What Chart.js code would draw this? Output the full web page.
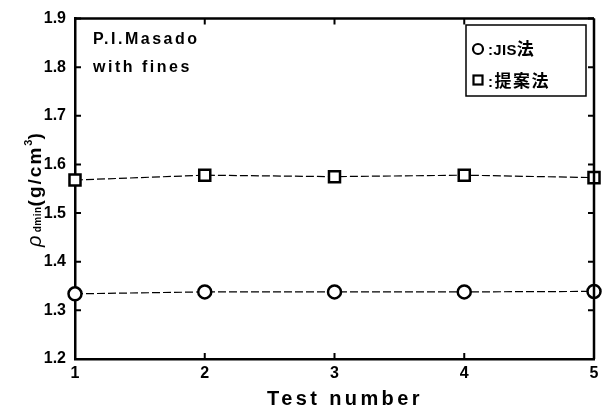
<!DOCTYPE html>
<html>
<head>
<meta charset="utf-8">
<script src="https://cdn.jsdelivr.net/npm/chart.js@4.4.1/dist/chart.umd.min.js"></script>
<style>
  html, body { margin: 0; padding: 0; background: #fff; }
  #wrap { width: 606px; height: 414px; }
</style>
</head>
<body>
<div id="wrap"><canvas id="chart" width="606" height="414"></canvas></div>
<script>
// ── data ─────────────────────────────────────────
const testNumbers    = [1, 2, 3, 4, 5];
const jisValues      = [1.334, 1.338, 1.338, 1.338, 1.339];
const proposedValues = [1.568, 1.578, 1.575, 1.578, 1.573];
const seriesLabels   = [':JIS法', ':提案法'];
const noteLines      = ['P.I.Masado', 'with fines'];
const yMin = 1.2, yMax = 1.9, yStep = 0.1;

const FONT = "'Liberation Sans', Arial, 'Noto Sans CJK JP', sans-serif";
const CJK = "'Noto Sans CJK JP', sans-serif";

// latin chars in one font, CJK chars in another, left to right
function mixedText(ctx, str, x, y, latinFont, cjkFont, spacing) {
  ctx.letterSpacing = spacing + 'px';
  for (const ch of str) {
    ctx.font = /[\u3000-\u9fff]/.test(ch) ? cjkFont : latinFont;
    ctx.fillText(ch, x, y);
    x += ctx.measureText(ch).width;
  }
}

// inner ticks, frame, legend, notes and axis titles
const figurePlugin = {
  id: 'figure',
  afterDraw(chart) {
    const ctx = chart.ctx;
    const a = chart.chartArea;
    const xs = chart.scales.x, ys = chart.scales.y;
    ctx.save();
    ctx.strokeStyle = '#000';
    ctx.lineWidth = 2.5;
    ctx.beginPath();
    ctx.moveTo(a.left, a.top); ctx.lineTo(a.right, a.top);
    ctx.moveTo(a.right, a.top); ctx.lineTo(a.right, a.bottom);
    ctx.stroke();

    ctx.lineWidth = 2;
    ctx.beginPath();
    xs.ticks.forEach(t => {
      const px = xs.getPixelForValue(t.value);
      ctx.moveTo(px, a.bottom); ctx.lineTo(px, a.bottom - 6);
      ctx.moveTo(px, a.top); ctx.lineTo(px, a.top + 6);
    });
    ys.ticks.forEach(t => {
      const py = ys.getPixelForValue(t.value);
      ctx.moveTo(a.left, py); ctx.lineTo(a.left + 6, py);
      ctx.moveTo(a.right, py); ctx.lineTo(a.right - 6, py);
    });
    ctx.stroke();

    // legend box
    ctx.lineWidth = 1.5;
    ctx.strokeRect(466, 25, 120, 71);
    ctx.fillStyle = '#fff';
    ctx.lineWidth = 2.2;
    ctx.beginPath(); ctx.arc(478, 49, 5, 0, Math.PI * 2); ctx.fill(); ctx.stroke();
    ctx.fillRect(473.5, 75.5, 9, 9); ctx.strokeRect(473.5, 75.5, 9, 9);
    ctx.fillStyle = '#000';
    ctx.textBaseline = 'alphabetic';
    ctx.textAlign = 'left';
    mixedText(ctx, seriesLabels[0], 488, 55, 'bold 15px ' + FONT, 'bold 17px ' + CJK, 0.3);
    mixedText(ctx, seriesLabels[1], 488, 87, 'bold 15px ' + FONT, 'bold 17px ' + CJK, 1.5);

    // notes
    ctx.font = 'bold 16px ' + FONT;
    ctx.letterSpacing = '2.5px';
    ctx.fillText(noteLines[0], 93, 44);
    ctx.fillText(noteLines[1], 93, 72);

    // x title
    ctx.font = 'bold 20px ' + FONT;
    ctx.letterSpacing = '3.4px';
    ctx.fillText('Test number', 267, 405);

    // y title (rotated, rich text)
    ctx.translate(41, 247);
    ctx.rotate(-Math.PI / 2);
    const parts = [
      { t: 'ρ', f: 'italic 20px ' + FONT, ls: 0, dy: 0 },
      { t: ' dmin', f: 'bold 10px ' + FONT, ls: 0.5, dy: 0 },
      { t: '(g/cm', f: 'bold 19px ' + FONT, ls: 2, dy: 0 },
      { t: '3', f: 'bold 11px ' + FONT, ls: 0, dy: -9 },
      { t: ')', f: 'bold 19px ' + FONT, ls: 2, dy: 0 }
    ];
    let x = 0;
    parts.forEach(p => {
      ctx.font = p.f;
      ctx.letterSpacing = p.ls + 'px';
      ctx.fillText(p.t, x, p.dy);
      x += ctx.measureText(p.t).width;
    });
    ctx.restore();
  }
};

new Chart(document.getElementById('chart'), {
  type: 'line',
  data: {
    datasets: [
      {
        label: seriesLabels[0],
        data: testNumbers.map((n, i) => ({ x: n, y: jisValues[i] })),
        borderColor: '#000', borderWidth: 1.2, borderDash: [8, 3],
        pointStyle: 'circle', pointRadius: 6.5, pointBorderWidth: 2.5,
        pointBackgroundColor: '#fff', pointBorderColor: '#000',
        tension: 0, clip: false
      },
      {
        label: seriesLabels[1],
        data: testNumbers.map((n, i) => ({ x: n, y: proposedValues[i] })),
        borderColor: '#000', borderWidth: 1.2, borderDash: [8, 3],
        pointStyle: 'rect', pointRadius: 7.8, pointBorderWidth: 2.5,
        pointBackgroundColor: '#fff', pointBorderColor: '#000',
        tension: 0, clip: false
      }
    ]
  },
  options: {
    responsive: false,
    animation: false,
    layout: { padding: { top: 14, right: 12, left: 0, bottom: 0 } },
    plugins: { legend: { display: false }, tooltip: { enabled: false } },
    scales: {
      x: {
        type: 'linear', min: 1, max: 5,
        grid: { display: false, drawTicks: false },
        border: { display: true, color: '#000', width: 2.5 },
        ticks: { stepSize: 1, padding: 5, color: '#000', font: { family: FONT, size: 16, weight: 'bold' } },
        afterFit: s => { s.height = 55; }
      },
      y: {
        type: 'linear', min: yMin, max: yMax,
        grid: { display: false, drawTicks: false },
        border: { display: true, color: '#000', width: 2.5 },
        ticks: { stepSize: yStep, padding: 9, color: '#000', font: { family: FONT, size: 16, weight: 'bold' },
                 callback: v => v.toFixed(1) },
        afterFit: s => { s.width = 75; }
      }
    }
  },
  plugins: [figurePlugin]
});
</script>
</body>
</html>
